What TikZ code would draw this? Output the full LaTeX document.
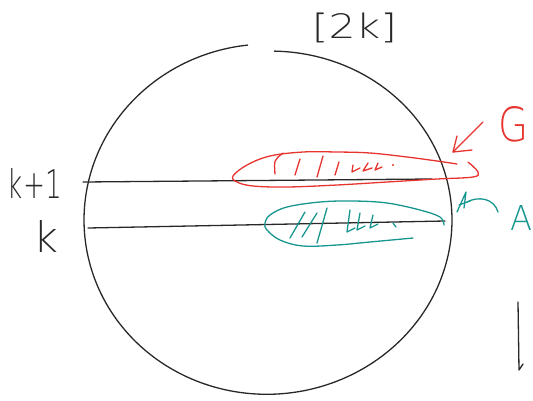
\documentclass[tikz,border=0pt]{standalone}
\usepackage{fontspec}
\newfontfamily\hand{DejaVu Sans ExtraLight}
\usepackage{graphicx}
\definecolor{penred}{RGB}{232,52,47}
\definecolor{penteal}{RGB}{23,150,143}
\definecolor{penblack}{RGB}{40,40,40}
\begin{document}
\begin{tikzpicture}[x=1pt,y=-1pt, line cap=round, line join=round,
  ink/.style={line width=1.3pt, draw=penblack},
  redink/.style={line width=1.3pt, draw=penred},
  tealink/.style={line width=1.3pt, draw=penteal},
  lbl/.style={inner sep=0pt, outer sep=0pt}]
\useasboundingbox (0,0) rectangle (533,400);
% sphere (hand-drawn, not quite closed)
\draw[ink] plot[domain=0:1, samples=140, smooth]
  ({268+184*cos(88-352*\x)}, {220-(176-7*(1-\x)^2)*sin(88-352*\x)});
% levels
\coordinate (l1a) at (83,182);
\coordinate (l1b) at (432,179);
\coordinate (l0a) at (88,228);
\coordinate (l0b) at (445,221);
\draw[ink] (l1a) -- (l1b);
\draw[ink] (l0a) -- (l0b);
% red region G
\draw[redink] plot[smooth, tension=0.6] coordinates {(457,164) (437,161) (407,157) (370,153) (337,152) (303,152) (270,156) (247,165) (233,176) (237,182) (253,186) (287,187) (337,185) (387,182) (437,179) (473,177) (478,172) (468,162)};
% red hatching
\draw[redink] (283,153) .. controls (274,160) .. (275,174);
\draw[redink] (300,159) -- (295,175);
\draw[redink] (323,156) -- (317,177);
\draw[redink] (339,162) -- (335,175);
\draw[redink] (353,165) -- (352,172) -- (360,168);
\draw[redink] (368,163) -- (363,171) -- (372,168);
\draw[redink] (378,163) -- (375,170) -- (382,167);
\fill[penred] (393,165) circle (1.1pt);
% teal region A
\draw[tealink] plot[smooth, tension=0.6] coordinates {(413,238) (370,242) (337,245) (303,246) (280,240) (267,230) (265,223) (270,215) (287,207) (320,202) (353,201) (387,203) (420,210) (440,217) (444,225)};
% teal hatching
\draw[tealink] (305,212) -- (290,238);
\draw[tealink] (317,213) -- (302,237);
\draw[tealink] (327,208) -- (317,243);
\draw[tealink] (350,210) -- (347,232) -- (355,228);
\draw[tealink] (360,213) -- (357,230) -- (365,226);
\draw[tealink] (373,215) -- (370,228) -- (378,224);
\draw[tealink] (393,223) -- (396,227);
% labels
\node[lbl, text=penblack] (top) at (354.5,28) {\resizebox*{85pt}{30pt}{\hand[2k]}};
\node[lbl, text=penblack] (kp1) at (35,183.5) {\resizebox{54pt}{30pt}{\hand k+1}};
\node[lbl, text=penblack] (k) at (45.5,236) {\resizebox{25pt}{32pt}{\hand k}};
\node[lbl, text=penred] (G) at (513,124.5) {\resizebox{30pt}{35pt}{\hand G}};
\node[lbl, text=penteal] (A) at (521,217.5) {\resizebox{22pt}{25pt}{\hand A}};
% red arrow to G region
\coordinate (gt) at (483,122);
\coordinate (gh) at (453,152);
\draw[redink] (gt) -- (gh);
\draw[redink] (457,136) -- (gh) -- (472,150);
% teal arrow to A region
\coordinate (at) at (498,212);
\coordinate (ah) at (467,202);
\draw[tealink] (at) .. controls (494,198) and (478,196) .. (ah);
\draw[tealink] (457,212) -- (466,192) -- (464,208);
\draw[tealink] (459,205) -- (470,201);
% vertical stroke
\coordinate (va) at (518,302);
\coordinate (vb) at (519,370);
\draw[ink] (va) -- (vb) -- (523,364);
\end{tikzpicture}
\end{document}
